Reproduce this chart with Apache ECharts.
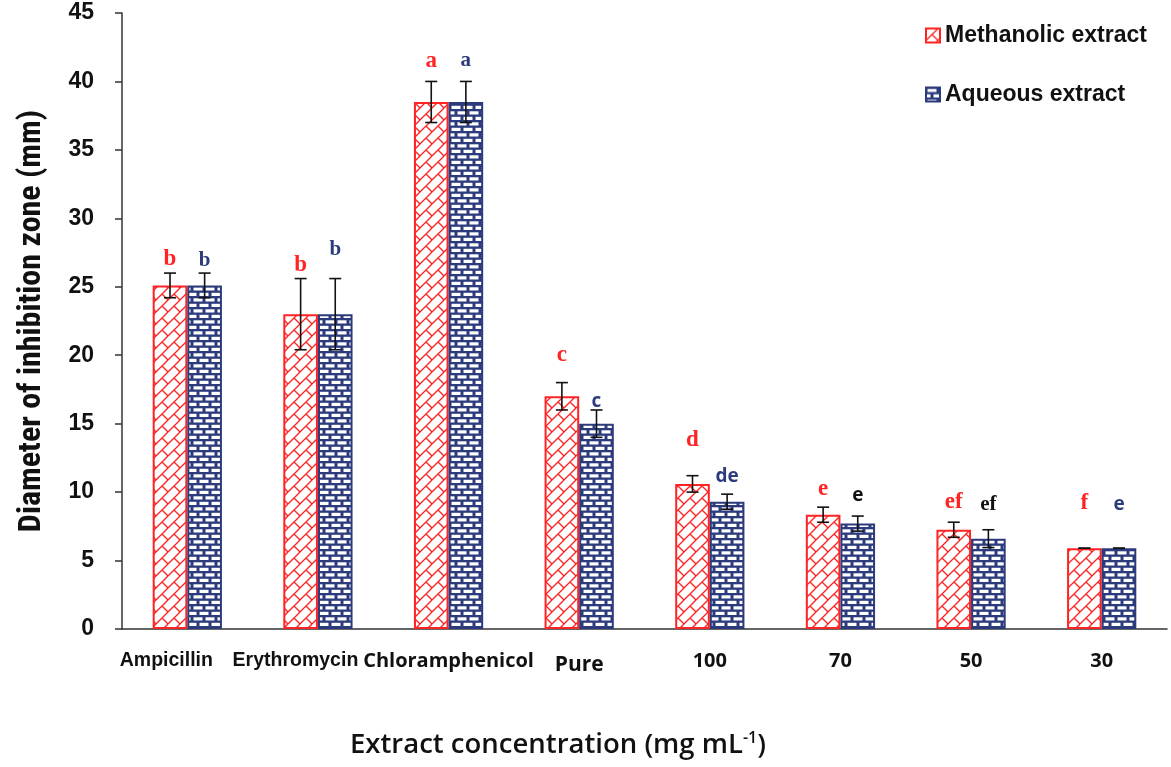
<!DOCTYPE html>
<html><head><meta charset="utf-8">
<script src="https://cdn.jsdelivr.net/npm/echarts@6/dist/echarts.min.js"></script>
<style>html,body{margin:0;padding:0;background:#fff}#c{width:1171px;height:767px}</style>
</head><body><div id="c"></div>
<script>
const categories = ['Ampicillin','Erythromycin','Chloramphenicol','Pure','100','70','50','30'];
const methanolic = [25.1, 23.0, 38.5, 17.0, 10.6, 8.35, 7.25, 5.9];
const methanolicErr = [0.9, 2.6, 1.5, 1.0, 0.6, 0.55, 0.55, 0];
const aqueous = [25.1, 23.0, 38.5, 15.0, 9.3, 7.7, 6.6, 5.9];
const aqueousErr = [0.9, 2.6, 1.5, 1.0, 0.55, 0.55, 0.65, 0];
const methanolicLetters = ['b','b','a','c','d','e','ef','f'];
const aqueousLetters = ['b','b','a','c','de','e','ef','e'];
const methanolicLetterY = [27.0, 26.6, 41.5, 20.0, 13.8, 10.2, 9.3, 9.2];
const aqueousLetterY = [26.9, 27.7, 41.5, 16.6, 11.1, 9.75, 9.07, 9.07];
const yTicks = [0,5,10,15,20,25,30,35,40,45];
const xTitle = ['Extract concentration (mg mL', '-1', ')'];

const RED = '#FF2323', NAVY = '#2C3B7C';
const BAR_FRAC = 0.265;

function redPattern(){
  const T = 12;
  const c = document.createElement('canvas'); c.width = T; c.height = T;
  const g = c.getContext('2d');
  g.fillStyle = '#fff'; g.fillRect(0,0,T,T);
  g.strokeStyle = RED; g.lineWidth = 1.3;
  for (let ox=-T; ox<=T; ox+=T) for (let oy=-T; oy<=T; oy+=T){
    g.beginPath(); g.moveTo(ox+0,oy+T); g.lineTo(ox+T,oy+0); g.stroke();
    g.beginPath(); g.moveTo(ox+6,oy+6); g.lineTo(ox+12,oy+12); g.stroke();
  }
  return c;
}
function bluePattern(){
  const c = document.createElement('canvas'); c.width = 12; c.height = 11;
  const g = c.getContext('2d');
  g.fillStyle = NAVY; g.fillRect(0,0,12,11);
  g.fillStyle = '#fff';
  g.fillRect(1.5,1.3,9,3.2);
  g.fillRect(-4.5,6.8,9,3.2); g.fillRect(7.5,6.8,9,3.2);
  return c;
}
const redFill = {image: redPattern(), repeat: 'repeat'};
const blueFill = {image: bluePattern(), repeat: 'repeat'};

function errSeries(vals, errs, sign){
  return {
    type: 'custom', silent: true, z: 5,
    data: vals.map((v,i)=>[i, v, errs[i]]),
    renderItem: function(params, api){
      const idx = api.value(0), m = api.value(1), e = api.value(2);
      const bw = api.size([1,0])[0];
      const x = api.coord([idx, m])[0] + sign*bw*BAR_FRAC/2;
      const yt = api.coord([idx, m+e])[1], yb = api.coord([idx, m-e])[1];
      const cap = 6;
      const st = {stroke:'#111', lineWidth:1.6};
      return {type:'group', children:[
        {type:'line', shape:{x1:x,y1:yt,x2:x,y2:yb}, style:st},
        {type:'line', shape:{x1:x-cap,y1:yt,x2:x+cap,y2:yt}, style:st},
        {type:'line', shape:{x1:x-cap,y1:yb,x2:x+cap,y2:yb}, style:st}
      ]};
    }
  };
}
function letterSeries(letters, ys, sign, styler){
  return {
    type: 'custom', silent: true, z: 6,
    data: ys.map((v,i)=>[i, v]),
    renderItem: function(params, api){
      const idx = api.value(0), y = api.value(1);
      const bw = api.size([1,0])[0];
      const p = api.coord([idx, y]);
      const s = styler(idx);
      return {type:'text', x: p[0] + sign*bw*BAR_FRAC/2, y: p[1],
        style:{text: letters[idx], fill: s.color, fontSize: s.size, fontFamily: s.family,
          fontWeight:'bold', align:'center', verticalAlign:'middle'}};
    }
  };
}
const serif = '"Liberation Serif","DejaVu Serif",serif';
const sans = '"Open Sans","Liberation Sans",sans-serif';
const arial = '"Liberation Sans",Arial,sans-serif';

const chart = echarts.init(document.getElementById('c'));
chart.setOption({
  animation: false,
  backgroundColor: '#fff',
  grid: {left: 122, right: 4, top: 13, bottom: 138},
  legend: {
    orient: 'vertical', left: 920, top: 19, itemGap: 36, itemWidth: 14, itemHeight: 14,
    icon: 'rect',
    textStyle: {fontSize: 23, fontWeight: 'bold', color: '#111', fontFamily: arial},
    data: ['Methanolic extract', 'Aqueous extract']
  },
  graphic: [{
    type: 'text', left: 350, top: 730,
    style: {
      text: '{t|' + xTitle[0] + '}{s|' + xTitle[1] + '}{t|' + xTitle[2] + '}',
      rich: {
        t: {fontSize: 27.5, fontWeight: 600, fill: '#111', fontFamily: '"Open Sans",sans-serif', height: 36},
        s: {fontSize: 16, fontWeight: 600, fill: '#111', fontFamily: '"Open Sans",sans-serif', verticalAlign: 'top', height: 36, padding: [0,0,15,0]}
      }
    }
  }],
  xAxis: {
    type: 'category', data: categories,
    axisLine: {lineStyle: {color: '#333', width: 1.5}},
    axisTick: {alignWithLabel: true, length: 8, lineStyle: {color: '#333', width: 1.5}},
    axisLabel: {
      interval: 0, hideOverlap: false, margin: 22, color: '#111',
      fontSize: 19, fontWeight: 'bold', fontFamily: arial,
      formatter: function(v, i){
        if (i === 0) return '{a|' + v + '}';
        if (i === 1) return '{b|' + v + '}';
        if (v === 'Pure') return '{p|' + v + '}';
        return '{n|' + v + '}';
      },
      rich: {
        a: {fontSize: 19.5, fontWeight: 'bold', color: '#111', fontFamily: arial, padding: [0, 42, 0, 0]},
        b: {fontSize: 19.5, fontWeight: 'bold', color: '#111', fontFamily: arial, padding: [0, 45, 0, 0]},
        p: {fontSize: 21, fontWeight: 'bold', color: '#111', fontFamily: '"Open Sans",sans-serif', padding: [4, 0, 0, 0]},
        n: {fontSize: 20, fontWeight: 'bold', color: '#111', fontFamily: '"Open Sans",sans-serif'}
      }
    }
  },
  yAxis: {
    type: 'value', min: 0, max: 45, interval: 5,
    axisLine: {show: true, lineStyle: {color: '#333', width: 1.5}},
    axisTick: {show: true, length: 7, lineStyle: {color: '#333', width: 1.5}},
    splitLine: {show: false},
    axisLabel: {margin: 28, color: '#111', fontSize: 23, fontWeight: 'bold', fontFamily: arial,
      formatter: v => yTicks.includes(v) ? String(v) : ''},
    name: 'Diameter of inhibition zone (mm)',
    nameLocation: 'middle', nameGap: 74, nameRotate: 90,
    nameTextStyle: {fontSize: 32, fontWeight: 'bold', color: '#111', fontFamily: '"Liberation Sans Narrow","Roboto Condensed","Liberation Sans",sans-serif'}
  },
  series: [
    {name: 'Methanolic extract', type: 'bar', data: methanolic, barWidth: (BAR_FRAC*100)+'%', barGap: '0%',
      itemStyle: {color: redFill, borderColor: RED, borderWidth: 2}},
    {name: 'Aqueous extract', type: 'bar', data: aqueous, barWidth: (BAR_FRAC*100)+'%', barGap: '0%',
      itemStyle: {color: blueFill, borderColor: NAVY, borderWidth: 2}},
    errSeries(methanolic, methanolicErr, -1),
    errSeries(aqueous, aqueousErr, 1),
    letterSeries(methanolicLetters, methanolicLetterY, -1, i => ({color: RED, size: 23, family: serif})),
    letterSeries(aqueousLetters, aqueousLetterY, 1, i => ({
      color: (i === 5 || i === 6) ? '#111' : NAVY,
      size: i < 3 ? 21 : (i === 6 ? 21 : 19),
      family: (i < 3 || i === 6) ? serif : sans
    }))
  ]
});
</script></body></html>
